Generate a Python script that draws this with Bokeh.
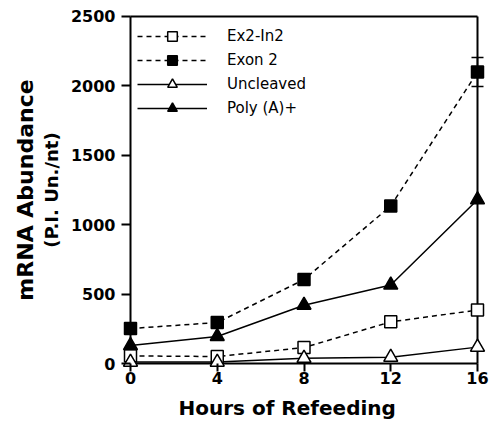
from bokeh.plotting import figure
from bokeh.models import (Range1d, FixedTicker, Legend, LegendItem, Title,
                          Whisker, ColumnDataSource, TeeHead)
from bokeh.embed import file_html
from bokeh.resources import INLINE

# ---------------- data ----------------
hours = [0, 4, 8, 12, 16]
ex2_in2 = [55, 50, 115, 300, 385]
exon2 = [252, 295, 605, 1135, 2100]
uncleaved = [10, 10, 38, 45, 118]
poly_a = [130, 195, 420, 565, 1180]

exon2_err_hours = [16]
exon2_err_low = [1995]
exon2_err_high = [2205]

x_ticks = [0, 4, 8, 12, 16]
y_ticks = [0, 500, 1000, 1500, 2000, 2500]

FONT = "DejaVu Sans"

# ---------------- layout ----------------
W, H = 490, 427
ML, MR, MT, MB = 121, 4, 8, 56
X0, X1 = -0.415, 16.415
Y0, Y1 = -57.6, 2557.6

p = figure(width=W, height=H, output_backend="svg", toolbar_location=None,
           x_range=Range1d(X0, X1), y_range=Range1d(Y0, Y1),
           min_border_left=ML, min_border_right=MR,
           min_border_top=MT, min_border_bottom=MB)
p.outline_line_color = None
p.grid.visible = False
p.background_fill_color = "white"
p.border_fill_color = "white"

xa = p.xaxis[0]
xa.ticker = FixedTicker(ticks=x_ticks)
ya = p.yaxis[0]
ya.ticker = FixedTicker(ticks=y_ticks)
for ax in (xa, ya):
    ax.axis_line_color = None
    ax.major_tick_line_width = 2
    ax.major_tick_line_color = "black"
    ax.major_tick_out = 0
    ax.minor_tick_line_color = None
    ax.major_label_text_font = FONT
    ax.major_label_text_font_size = "16px"
    ax.major_label_text_font_style = "bold"
    ax.major_label_text_color = "black"
xa.major_tick_in = 8
ya.major_tick_in = 9
xa.major_label_standoff = 0
ya.major_label_standoff = 6

ya.axis_label = "(P.I. Un./nt)"
ya.axis_label_text_font = FONT
ya.axis_label_text_font_size = "18px"
ya.axis_label_text_font_style = "bold"
ya.axis_label_text_color = "black"
ya.axis_label_standoff = 6

p.add_layout(Title(text="mRNA Abundance", align="center", standoff=0,
                   text_font=FONT, text_font_size="22px", text_font_style="bold",
                   text_color="black"), "left")
p.add_layout(Title(text="Hours of Refeeding", align="left", offset=57, standoff=15,
                   text_font=FONT, text_font_size="20px", text_font_style="bold",
                   text_color="black"), "below")

# box around the data area (axis lines)
p.segment(x0=[x_ticks[0], x_ticks[0], x_ticks[0], x_ticks[-1]],
          y0=[y_ticks[0], y_ticks[0], y_ticks[-1], y_ticks[0]],
          x1=[x_ticks[0], x_ticks[-1], x_ticks[-1], x_ticks[-1]],
          y1=[y_ticks[-1], y_ticks[0], y_ticks[-1], y_ticks[-1]],
          line_color="black", line_width=2)

# series
DASH = "5 4"
l1 = p.line(hours, ex2_in2, line_color="black", line_width=1.5, line_dash=DASH)
l2 = p.line(hours, exon2, line_color="black", line_width=1.5, line_dash=DASH)
l3 = p.line(hours, uncleaved, line_color="black", line_width=1.5)
l4 = p.line(hours, poly_a, line_color="black", line_width=1.5)

m1 = p.scatter(hours, ex2_in2, marker="square", size=12, fill_color="white",
               line_color="black", line_width=1.5)
m2 = p.scatter(hours, exon2, marker="square", size=12, fill_color="black",
               line_color="black", line_width=1.5)
m3 = p.scatter(hours, uncleaved, marker="triangle", size=14, fill_color="white",
               line_color="black", line_width=1.5)
m4 = p.scatter(hours, poly_a, marker="triangle", size=14, fill_color="black",
               line_color="black", line_width=1.5)

# error bar
err_src = ColumnDataSource(dict(x=exon2_err_hours, lo=exon2_err_low, hi=exon2_err_high))
p.add_layout(Whisker(base="x", lower="lo", upper="hi", source=err_src,
                     dimension="height", line_color="black", line_width=1.5,
                     upper_head=TeeHead(size=12, line_width=1.5, line_color="black"),
                     lower_head=TeeHead(size=12, line_width=1.5, line_color="black")))

# legend
legend = Legend(items=[
    LegendItem(label="Ex2-In2", renderers=[l1, m1]),
    LegendItem(label="Exon 2", renderers=[l2, m2]),
    LegendItem(label="Uncleaved", renderers=[l3, m3]),
    LegendItem(label="Poly (A)+", renderers=[l4, m4]),
], location="top_left", glyph_width=70, glyph_height=24, label_height=24,
    spacing=0, padding=16, margin=16, label_standoff=20,
    border_line_color=None, background_fill_alpha=0,
    label_text_font=FONT, label_text_font_size="15px", label_text_color="black")
p.add_layout(legend)

open("out.html", "w").write(file_html(p, INLINE))
